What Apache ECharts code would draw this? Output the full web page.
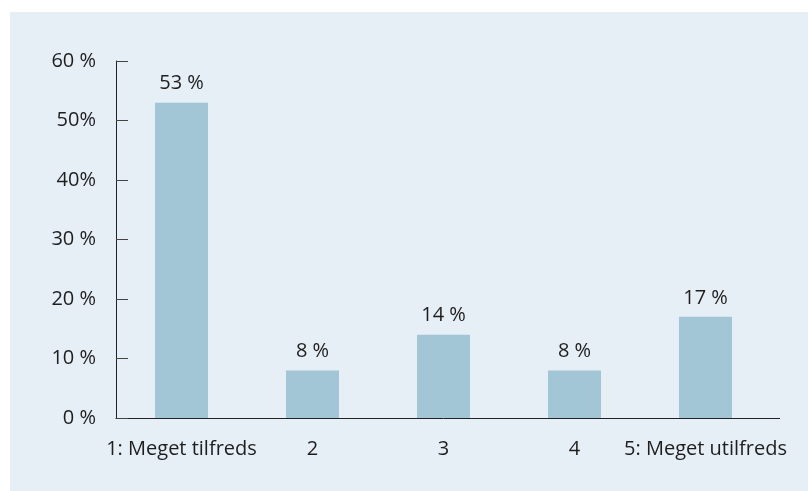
<!DOCTYPE html>
<html><head><meta charset="utf-8">
<script src="https://cdn.jsdelivr.net/npm/echarts@6/dist/echarts.min.js"></script>
<style>html,body{margin:0;padding:0;background:#fff}#c{width:808px;height:491px}</style>
</head><body><div id="c"></div>
<script>
var categories = ['1: Meget tilfreds', '2', '3', '4', '5: Meget utilfreds'];
var values = [53, 8, 14, 8, 17];
var valueLabels = ['53 %', '8 %', '14 %', '8 %', '17 %'];
var yTickLabels = {0: '0 %', 10: '10 %', 20: '20 %', 30: '30 %', 40: '40%', 50: '50%', 60: '60 %'};

var chart = echarts.init(document.getElementById('c'), null, {renderer: 'canvas'});
var font = '"Open Sans", "Noto Sans", sans-serif';
chart.setOption({
  animation: false,
  graphic: [{type: 'rect', z: -10, shape: {x: 10, y: 12, width: 798, height: 479}, style: {fill: '#e6eef6'}},
            {type: 'line', z: 5, shape: {x1: 771, y1: 418.5, x2: 780, y2: 418.5}, style: {stroke: '#222', lineWidth: 1}}],
  grid: {left: 116, right: 37, top: 61, bottom: 73, containLabel: false},
  xAxis: {
    type: 'category', data: categories,
    axisLine: {lineStyle: {color: '#222', width: 1}},
    axisTick: {show: false},
    axisLabel: {color: '#1e1e1e', fontSize: 20, fontFamily: font, margin: 21, interval: 0}
  },
  yAxis: {
    type: 'value', min: 0, max: 60, interval: 10,
    axisLine: {show: true, lineStyle: {color: '#222', width: 1}},
    axisTick: {show: true, inside: true, length: 12, lineStyle: {color: '#444'}},
    splitLine: {show: false},
    axisLabel: {color: '#1e1e1e', fontSize: 20, fontFamily: font, margin: 20,
      formatter: function (v) { return yTickLabels[v]; }}
  },
  series: [{
    type: 'bar', data: values, barWidth: 53,
    itemStyle: {color: '#a3c6d6'},
    label: {show: true, position: 'top', distance: 9, color: '#1e1e1e', fontSize: 20, fontFamily: font,
      formatter: function (p) { return valueLabels[p.dataIndex]; }}
  }]
});
</script></body></html>
